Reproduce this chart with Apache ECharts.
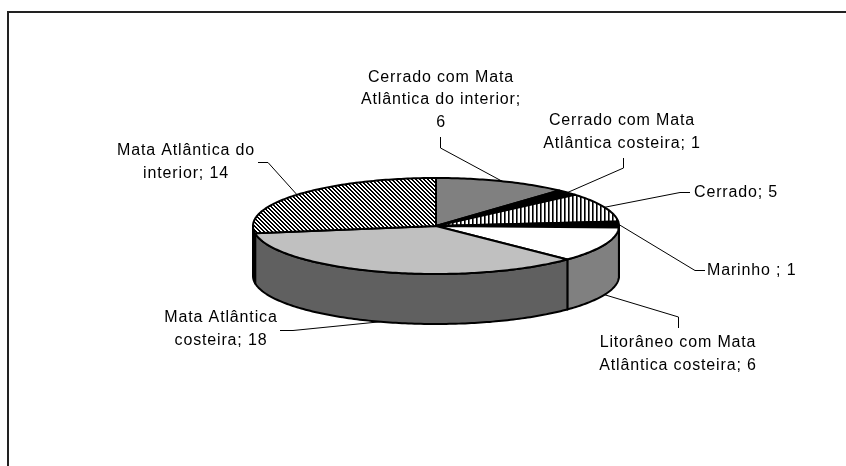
<!DOCTYPE html>
<html>
<head>
<meta charset="utf-8">
<style>
  html, body { margin: 0; padding: 0; background: #fff; }
  #main { width: 846px; height: 466px; }
</style>
<script src="https://cdn.jsdelivr.net/npm/echarts@6/dist/echarts.min.js"></script>
</head>
<body>
<div id="main"></div>
<script>
// Datos del grafico
const categories = [
  "Cerrado com Mata\nAtlântica do interior;\n6",
  "Cerrado com Mata\nAtlântica costeira; 1",
  "Cerrado; 5",
  "Marinho ; 1",
  "Litorâneo com Mata\nAtlântica costeira; 6",
  "Mata Atlântica\ncosteira; 18",
  "Mata Atlântica do\ninterior; 14",
];
const values = [6, 1, 5, 1, 6, 18, 14];

// Colores de cada porcion: tapa y pared
const topFills = ["#808080", "#000000", "vstripes", "#000000", "#ffffff", "#c0c0c0", "hatch"];
const sideFills = ["#808080", "#000000", "#000000", "#000000", "#808080", "#606060", "#000000"];

// Posicion de las etiquetas y quiebre de las guias
const labelPos = [
  { x: 441, y: 100, align: "center", elbow: [[440.5, 148], [440.5, 137]] },
  { x: 622, y: 132, align: "center", elbow: [[623.5, 168], [623.5, 158]] },
  { x: 694, y: 193, align: "left", elbow: [[680, 192.5], [690, 192.5]] },
  { x: 707, y: 271, align: "left", elbow: [[695, 270.5], [705, 270.5]] },
  { x: 678, y: 354, align: "center", elbow: [[678.5, 317], [678.5, 328]] },
  { x: 221, y: 329, align: "center", elbow: [[293, 330.5], [280, 330.5]] },
  { x: 186, y: 162, align: "center", elbow: [[268, 162.5], [258, 162.5]] },
];

// El original tiene las letras mas separadas y ECharts no trae esa opcion
const letterGap = "0.85px";
const proto = CanvasRenderingContext2D.prototype;
["fillText", "measureText"].forEach((name) => {
  const orig = proto[name];
  proto[name] = function () {
    this.letterSpacing = letterGap;
    return orig.apply(this, arguments);
  };
});

// Elipse del grafico
const cx = 436;
const cy = 226;
const rx = 183;
const ry = 48;
const depth = 50;

const total = values.reduce((a, b) => a + b, 0);
const ptAt = (deg, dy) => {
  const r = (deg * Math.PI) / 180;
  return [cx + rx * Math.sin(r), cy - ry * Math.cos(r) + (dy || 0)];
};
const startAngle = (i) => (values.slice(0, i).reduce((a, b) => a + b, 0) / total) * 360;

// Tramas de relleno
const makePattern = (kind) => {
  const c = document.createElement("canvas");
  c.width = 4;
  c.height = 4;
  const ctx = c.getContext("2d");
  ctx.fillStyle = "#fff";
  ctx.fillRect(0, 0, 4, 4);
  for (let y = 0; y < 4; y++) {
    const off = kind === "hatch" ? y : 0;
    ctx.fillStyle = "#000";
    ctx.fillRect(off % 4, y, 1, 1);
    ctx.fillStyle = kind === "hatch" ? "#000" : "#666";
    ctx.fillRect((off + 1) % 4, y, 1, 1);
  }
  return { image: c, repeat: "repeat" };
};
const patterns = { hatch: makePattern("hatch"), vstripes: makePattern("vstripes") };
const fillOf = (f) => patterns[f] || f;

const arc = (a0, a1, dy) => {
  const pts = [];
  const n = Math.max(2, Math.ceil(a1 - a0));
  for (let k = 0; k <= n; k++) pts.push(ptAt(a0 + ((a1 - a0) * k) / n, dy));
  return pts;
};

const renderPie = (params, api) => {
  const i = params.dataIndex;
  const a0 = startAngle(i);
  const a1 = a0 + (api.value(1) / total) * 360;
  const children = [];
  const s0 = Math.max(a0, 90);
  const s1 = Math.min(a1, 270);
  if (s1 > s0) {
    children.push({
      type: "polygon",
      shape: { points: arc(s0, s1, 0).concat(arc(s0, s1, depth).reverse()) },
      style: { fill: sideFills[i], stroke: "#000", lineWidth: 2, lineJoin: "round" },
    });
  }
  children.push({
    type: "polygon",
    shape: { points: [[cx, cy]].concat(arc(a0, a1, 0)) },
    style: { fill: fillOf(topFills[i]), stroke: "#000", lineWidth: 2, lineJoin: "round" },
  });
  return { type: "group", children };
};

const renderLabels = (params, api) => {
  const i = params.dataIndex;
  const mid = startAngle(i) + (api.value(1) / total) * 180;
  const front = mid > 90 && mid < 270;
  const p = labelPos[i];
  return {
    type: "group",
    children: [
      {
        type: "polyline",
        shape: { points: [ptAt(mid, front ? depth : 0)].concat(p.elbow) },
        style: { fill: null, stroke: "#000", lineWidth: 1 },
      },
      {
        type: "text",
        style: {
          x: p.x,
          y: p.y,
          text: categories[i],
          align: p.align,
          verticalAlign: "middle",
          fill: "#000",
          font: '16px "Liberation Sans"',
          lineHeight: 22.5,
        },
      },
    ],
  };
};

const seriesData = values.map((v, i) => [i, v]);
const chart = echarts.init(document.getElementById("main"), null, { renderer: "canvas" });
chart.setOption({
  animation: false,
  backgroundColor: "#fff",
  graphic: [
    {
      type: "polyline",
      shape: { points: [[8, 466], [8, 12], [846, 12]] },
      style: { fill: null, stroke: "#222", lineWidth: 2 },
    },
  ],
  series: [
    { type: "custom", coordinateSystem: "none", z: 1, data: seriesData, renderItem: renderLabels },
    { type: "custom", coordinateSystem: "none", z: 2, data: seriesData, renderItem: renderPie },
  ],
});
</script>
</body>
</html>
